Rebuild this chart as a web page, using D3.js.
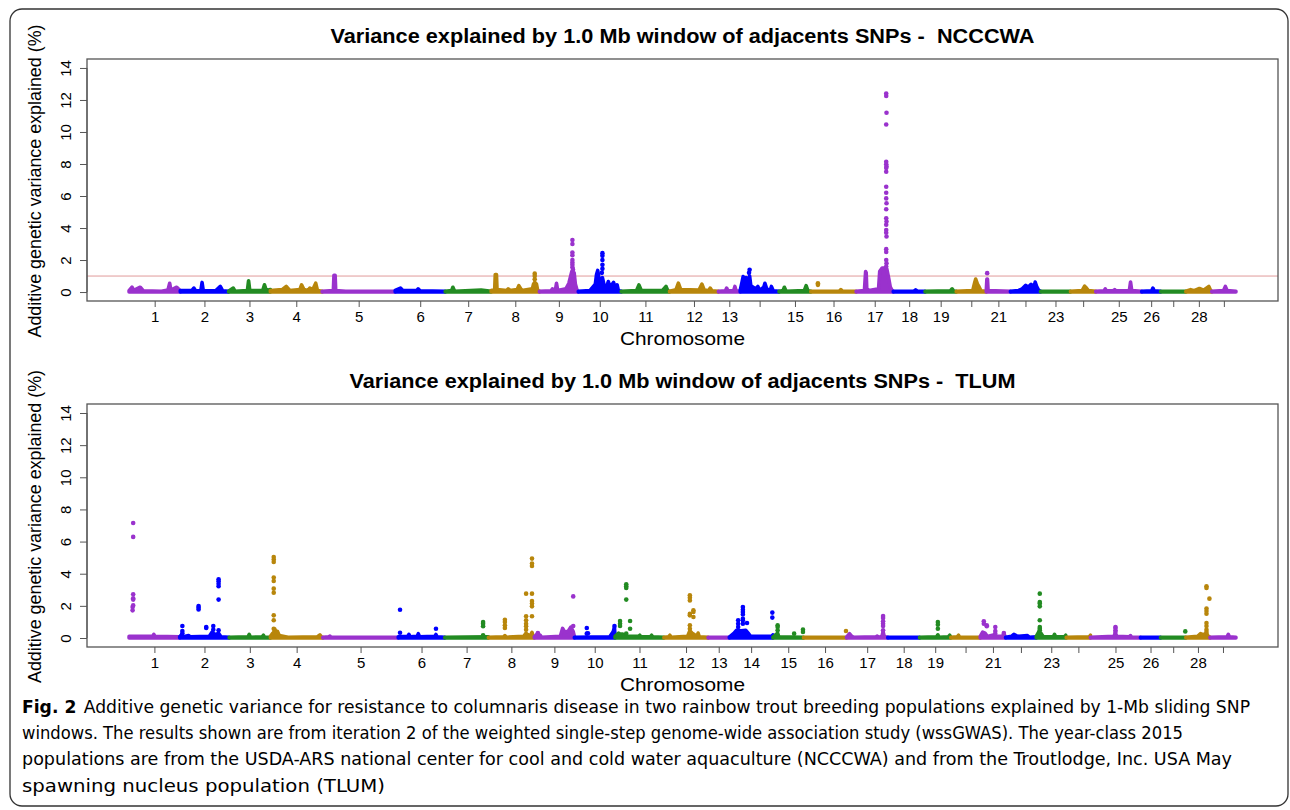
<!DOCTYPE html>
<html lang="en">
<head>
<meta charset="UTF-8">
<title>Variance explained by 1.0 Mb windows</title>
<script src="https://d3js.org/d3.v7.min.js"></script>
<style>
  body { margin: 0; background: #fff; }
  text { font-family: "Liberation Sans", Arial, sans-serif; fill: #000; }
  .caption text { font-family: "Liberation Sans Narrow", "DejaVu Sans Condensed", "Liberation Sans", sans-serif; }
</style>
</head>
<body>
<svg id="chart" width="1290" height="810"></svg>
<script>
// chromosome names and colour cycle
const chromNames = d3.range(1, 30).map(String);
const chromColors = ["#9a32cd", "#0000ff", "#228b22", "#b8860b"];
const yTicks = [0, 2, 4, 6, 8, 10, 12, 14];
const threshold = 1;

// span of the SNP windows on each chromosome (Mb)
const ncccwaChromLen = [87, 82, 71, 88, 124, 85, 78, 82, 66, 73, 82, 83, 37, 66, 54, 77, 63, 54, 53, 51, 41, 51, 51, 43, 78, 32, 43, 44, 41];
const tlumChromLen = [86, 84, 70, 89, 128, 79, 74, 78, 68, 69, 83, 75, 36, 74, 52, 73, 70, 54, 53, 50, 43, 52, 51, 41, 85, 34, 43, 41, 44];

// labels R managed to print under the ticks
const ncccwaTickLabels = ["1","2","3","4","5","6","7","8","9","10","11","12","13","15","16","17","18","19","21","23","25","26","28"];
const tlumTickLabels = ["1","2","3","4","5","6","7","8","9","10","11","12","13","14","15","16","17","18","19","21","23","25","26","28"];

// dense windows near the baseline: [chromosome, position Mb, % variance]
const ncccwaProfile = [
  [1,0,0.08],[1,5,0.3],[1,8,0.1],[1,19,0.3],[1,24,0.08],[1,55,0.05],[1,66,0.12],[1,69,0.55],[1,71,0.12],[1,81,0.3],[1,87,0.08],
  [2,0,0.1],[2,20,0.1],[2,23,0.25],[2,26,0.08],[2,35,0.1],[2,37,0.6],[2,39,0.1],[2,60,0.08],[2,68,0.35],[2,72,0.08],[2,82,0.05],
  [3,0,0.05],[3,8,0.25],[3,11,0.05],[3,32,0.1],[3,34,0.7],[3,36,0.1],[3,58,0.1],[3,61,0.45],[3,64,0.1],[3,71,0.15],
  [4,0,0.1],[4,20,0.15],[4,27,0.35],[4,33,0.1],[4,50,0.15],[4,53,0.45],[4,57,0.15],[4,64,0.1],[4,67,0.25],[4,72,0.15],[4,77,0.55],[4,80,0.1],[4,88,0.05],
  [5,0,0.05],[5,19,0.1],[5,20,1.05],[5,22,1.05],[5,23,0.1],[5,40,0.05],[5,124,0.05],
  [6,0,0.1],[6,9,0.25],[6,13,0.1],[6,37,0.1],[6,39,0.2],[6,42,0.08],[6,85,0.05],
  [7,0,0.05],[7,11,0.1],[7,13,0.3],[7,16,0.05],[7,61,0.12],[7,78,0.05],
  [8,0,0.1],[8,6,0.15],[8,7,1.1],[8,9,1.1],[8,10,0.15],[8,27,0.1],[8,29,0.2],[8,32,0.1],[8,44,0.15],[8,47,0.4],[8,52,0.1],[8,70,0.2],[8,72,0.5],[8,74,0.6],[8,77,0.5],[8,79,0.1],[8,82,0.05],
  [9,0,0.05],[9,20,0.08],[9,22,0.2],[9,24,0.08],[9,27,0.1],[9,29,0.55],[9,31,0.1],[9,45,0.2],[9,50,0.55],[9,55,1.28],[9,59,1.2],[9,61,0.5],[9,64,0.1],[9,66,0.05],
  [10,0,0.05],[10,20,0.1],[10,29,0.5],[10,31,1.1],[10,33,1.35],[10,35,0.9],[10,37,0.6],[10,41,0.9],[10,44,0.4],[10,48,0.3],[10,51,0.66],[10,54,0.3],[10,60,0.6],[10,63,0.2],[10,66,0.45],[10,68,0.1],[10,73,0.05],
  [11,0,0.05],[11,26,0.1],[11,30,0.45],[11,34,0.1],[11,70,0.1],[11,76,0.35],[11,79,0.08],[11,82,0.05],
  [12,0,0.05],[12,11,0.15],[12,15,0.56],[12,19,0.15],[12,50,0.12],[12,55,0.5],[12,59,0.12],[12,67,0.1],[12,69,0.25],[12,72,0.08],[12,83,0.05],
  [13,0,0.05],[13,12,0.08],[13,14,0.25],[13,16,0.08],[13,26,0.1],[13,28,0.35],[13,30,0.08],[13,37,0.05],
  [14,0,0.1],[14,3,0.6],[14,5,0.97],[14,7,0.4],[14,10,0.9],[14,12,0.7],[14,16,1.0],[14,18,0.4],[14,26,0.2],[14,30,0.35],[14,33,0.1],[14,40,0.3],[14,42,0.55],[14,45,0.2],[14,51,0.1],[14,53,0.35],[14,56,0.08],[14,66,0.05],
  [15,0,0.05],[15,7,0.1],[15,9,0.3],[15,12,0.05],[15,43,0.1],[15,46,0.4],[15,49,0.08],[15,54,0.05],
  [16,0,0.05],[16,48,0.05],[16,51,0.15],[16,54,0.05],[16,77,0.05],
  [17,0,0.05],[17,14,0.1],[17,16,1.28],[17,17,1.2],[17,18,0.2],[17,22,0.1],[17,38,0.2],[17,40,1.3],[17,44,1.5],[17,49,1.5],[17,52,1.45],[17,55,0.9],[17,58,0.3],[17,61,0.1],[17,63,0.05],
  [18,0,0.05],[18,35,0.05],[18,38,0.14],[18,41,0.05],[18,54,0.05],
  [19,0,0.05],[19,43,0.08],[19,46,0.2],[19,49,0.05],[19,53,0.05],
  [20,0,0.05],[20,28,0.1],[20,31,0.55],[20,33,0.81],[20,36,0.5],[20,39,0.3],[20,42,0.08],[20,51,0.05],
  [21,0,0.1],[21,1,0.81],[21,2,0.81],[21,3,0.1],[21,41,0.05],
  [22,0,0.05],[22,14,0.1],[22,20,0.2],[22,26,0.42],[22,30,0.3],[22,35,0.48],[22,40,0.3],[22,42,0.62],[22,45,0.3],[22,48,0.1],[22,51,0.05],
  [23,0,0.05],[23,51,0.05],
  [24,0,0.05],[24,20,0.1],[24,24,0.37],[24,27,0.25],[24,30,0.1],[24,43,0.05],
  [25,0,0.05],[25,14,0.08],[25,16,0.2],[25,18,0.08],[25,30,0.1],[25,32,0.15],[25,34,0.08],[25,57,0.1],[25,59,0.62],[25,61,0.1],[25,78,0.05],
  [26,0,0.05],[26,17,0.08],[26,19,0.25],[26,21,0.08],[26,32,0.05],
  [27,0,0.05],[27,43,0.05],
  [28,0,0.05],[28,8,0.15],[28,14,0.08],[28,23,0.22],[28,30,0.12],[28,39,0.35],[28,42,0.1],[28,44,0.05],
  [29,0,0.05],[29,20,0.1],[29,23,0.35],[29,26,0.1],[29,41,0.05]
];

// isolated windows standing above the baseline
const ncccwaHits = [
  [8,74,1.15],[8,74,1.0],[8,74,0.8],
  [9,56,3.25],[9,56,3.0],[9,56,2.47],[9,56,2.3],[9,56,2.0],[9,56,1.85],[9,56,1.7],[9,56,1.55],[9,57,1.4],
  [10,41,2.43],[10,41,2.26],[10,41,2.0],[10,41,1.7],[10,41,1.45],[10,40,1.2],
  [14,16,1.39],[14,15,1.2],
  [16,12,0.55],[16,12,0.45],
  [17,51,12.4],[17,51,12.25],[17,51.5,11.2],[17,51,10.47],[17,51,8.14],[17,51,7.98],[17,51.5,7.85],[17,51,7.75],[17,51,7.52],
  [17,51,6.58],[17,51,6.2],[17,51,5.85],[17,51.5,5.55],[17,51,5.17],[17,51,4.61],[17,51.5,4.4],[17,51,4.2],[17,51,3.88],
  [17,51,3.7],[17,51.5,3.47],[17,51,2.68],[17,51,2.5],[17,51,2.0],[17,51.5,1.8],[17,51,1.6],
  [21,1.5,1.18]
];

const tlumProfile = [
  [1,0,0.1],[1,40,0.1],[1,42,0.23],[1,44,0.1],[1,86,0.08],
  [2,0,0.08],[2,3,0.2],[2,6,0.08],[2,15,0.15],[2,18,0.08],[2,50,0.1],[2,55,0.37],[2,60,0.2],[2,66,0.3],[2,70,0.08],[2,84,0.05],
  [3,0,0.05],[3,32,0.08],[3,34,0.23],[3,36,0.05],[3,56,0.08],[3,58,0.17],[3,60,0.05],[3,70,0.05],
  [4,0,0.1],[4,4,0.3],[4,8,0.45],[4,12,0.4],[4,15,0.15],[4,30,0.05],[4,80,0.08],[4,84,0.2],[4,87,0.05],[4,89,0.05],
  [5,0,0.05],[5,10,0.08],[5,12,0.12],[5,14,0.05],[5,128,0.05],
  [6,0,0.08],[6,16,0.1],[6,18,0.23],[6,20,0.08],[6,32,0.1],[6,34,0.27],[6,36,0.08],[6,62,0.1],[6,64,0.22],[6,66,0.08],[6,79,0.05],
  [7,0,0.05],[7,74,0.08],
  [8,0,0.05],[8,26,0.08],[8,28,0.15],[8,30,0.05],[8,60,0.1],[8,64,0.3],[8,68,0.15],[8,72,0.2],[8,74,0.35],[8,76,0.1],[8,78,0.05],
  [9,0,0.08],[9,6,0.3],[9,8,0.1],[9,10,0.17],[9,12,0.05],[9,44,0.1],[9,48,0.6],[9,52,0.35],[9,58,0.45],[9,62,0.68],[9,66,0.4],[9,68,0.1],
  [10,0,0.05],[10,60,0.08],[10,66,0.4],[10,68,0.68],[10,69,0.1],
  [11,0,0.1],[11,6,0.3],[11,9,0.2],[11,12,0.25],[11,16,0.2],[11,20,0.1],[11,40,0.1],[11,42,0.17],[11,44,0.08],[11,60,0.08],[11,62,0.17],[11,64,0.08],[11,83,0.05],
  [12,0,0.05],[12,8,0.08],[12,10,0.17],[12,12,0.05],[12,40,0.1],[12,44,0.45],[12,48,0.3],[12,52,0.2],[12,56,0.1],[12,58,0.31],[12,60,0.08],[12,75,0.05],
  [13,0,0.05],[13,36,0.05],
  [14,0,0.05],[14,8,0.3],[14,12,0.48],[14,20,0.45],[14,28,0.48],[14,32,0.3],[14,36,0.1],[14,72,0.1],[14,74,0.2],
  [15,0,0.05],[15,8,0.3],[15,10,0.08],[15,52,0.05],
  [16,0,0.05],[16,73,0.05],
  [17,0,0.05],[17,5,0.27],[17,9,0.1],[17,12,0.05],[17,50,0.08],[17,52,0.12],[17,54,0.05],[17,60,0.1],[17,62,0.4],[17,64,0.1],[17,70,0.05],
  [18,0,0.05],[18,54,0.05],
  [19,0,0.05],[19,29,0.08],[19,31,0.2],[19,33,0.05],[19,49,0.08],[19,51,0.17],[19,53,0.05],
  [20,0,0.05],[20,11,0.08],[20,13,0.17],[20,15,0.05],[20,50,0.05],
  [21,0,0.1],[21,4,0.37],[21,8,0.3],[21,12,0.1],[21,24,0.2],[21,26,0.1],[21,38,0.1],[21,40,0.3],[21,42,0.1],[21,43,0.05],
  [22,0,0.05],[22,10,0.1],[22,14,0.23],[22,18,0.15],[22,22,0.1],[22,37,0.15],[22,40,0.05],[22,52,0.08],
  [23,0,0.1],[23,4,0.37],[23,8,0.3],[23,12,0.08],[23,29,0.08],[23,31,0.23],[23,33,0.08],[23,48,0.08],[23,50,0.17],[23,51,0.05],
  [24,0,0.05],[24,39,0.08],[24,41,0.17],
  [25,0,0.05],[25,40,0.1],[25,42,0.3],[25,45,0.1],[25,66,0.08],[25,68,0.15],[25,70,0.05],[25,85,0.05],
  [26,0,0.05],[26,34,0.05],
  [27,0,0.05],[27,43,0.05],
  [28,0,0.05],[28,20,0.1],[28,25,0.27],[28,30,0.2],[28,35,0.3],[28,38,0.1],[28,41,0.05],
  [29,0,0.05],[29,29,0.08],[29,31,0.23],[29,33,0.08],[29,44,0.05]
];

const tlumHits = [
  [1,6,1.93],[1,6,1.72],[1,7,2.72],[1,7,2.47],[1,7,2.39],[1,7,2.03],[1,7,6.29],[1,7,7.16],
  [2,4.5,0.75],[2,4.5,0.44],[2,4.5,0.3],[2,32,1.99],[2,32,1.89],[2,32,1.78],[2,45,0.68],[2,45,0.62],[2,57,0.75],[2,57,0.52],
  [2,66,3.65],[2,66,3.53],[2,66,3.38],[2,66,3.22],[2,66,2.39],[2,66,0.48],
  [4,5.6,5.04],[4,5.6,4.88],[4,5.6,4.73],[4,5.6,3.76],[4,5.6,3.55],[4,5.6,3.07],[4,5.6,2.82],[4,5.6,1.41],[4,5.6,1.1],[4,5.6,0.58],[4,7,0.52],
  [6,3,1.76],[6,3,0.33],[6,64,0.58],
  [7,65,1.0],[7,65,0.89],[7,65,0.73],[7,65,0.17],
  [8,28,1.14],[8,28,1.0],[8,28,0.79],[8,28,0.62],[8,64,2.76],[8,64,1.35],[8,64,1.1],[8,64,0.89],[8,64,0.73],[8,64,0.52],
  [8,74,4.94],[8,74,4.63],[8,74,4.48],[8,74,2.76],[8,74,2.3],[8,74,2.14],[8,74,1.97],[8,74,1.35],
  [9,6,0.31],[9,66,2.59],[9,66,0.75],
  [10,21,0.62],[10,21,0.27],[10,23,0.3],[10,68,0.75],
  [11,8.5,1.06],[11,8.5,0.89],[11,8.5,0.75],[11,19,3.34],[11,19,3.22],[11,19,3.11],[11,19,2.39],[11,19,0.27],[11,25.5,1.06],[11,25.5,0.58],
  [12,44,2.66],[12,44,2.51],[12,44,2.34],[12,44,1.51],[12,44,1.41],[12,44,0.79],[12,44,0.58],[12,50,1.72],[12,50,1.62],[12,50,1.31],
  [14,15,1.1],[14,15,0.89],[14,15,0.68],[14,23,1.93],[14,23,1.76],[14,23,1.62],[14,23,1.47],[14,23,1.2],[14,23,1.1],[14,23,0.89],[14,30,0.93],[14,73,1.58],[14,73,1.27],
  [15,8,0.79],[15,8,0.68],[15,8,0.48],[15,36,0.27],[15,51,0.52],[15,51,0.37],
  [16,72,0.44],
  [17,62,1.37],[17,62,1.25],[17,62,1.04],[17,62,0.89],[17,62,0.75],[17,62,0.48],
  [19,31,1.0],[19,31,0.83],[19,31,0.58],
  [21,6,1.04],[21,6,0.89],[21,11,0.79],[21,11,0.73],[21,25.5,0.68],[21,25.5,0.44],[21,25.5,0.27],[21,40,0.31],
  [23,6,2.76],[23,6,2.24],[23,6,2.14],[23,6,1.97],[23,6,1.1],[23,6,0.68],[23,6,0.58],[23,6,0.48],
  [25,42.5,0.68],[25,42.5,0.62],[25,42.5,0.48],[25,42.5,0.37],
  [27,42,0.41],
  [28,35,3.22],[28,35,3.11],[28,35,1.83],[28,35,1.68],[28,35,1.51],[28,35,0.93],[28,35,0.75],[28,35,0.52],[28,35,0.37],[28,40,2.45]
];

const captionLines = [
  "Additive genetic variance for resistance to columnaris disease in two rainbow trout breeding populations explained by 1-Mb sliding SNP",
  "windows. The results shown are from iteration 2 of the weighted single-step genome-wide association study (wssGWAS). The year-class 2015",
  "populations are from the USDA-ARS national center for cool and cold water aquaculture (NCCCWA) and from the Troutlodge, Inc. USA May",
  "spawning nucleus population (TLUM)"
];

const svg = d3.select("#chart");
const frameLeft = 87, frameRight = 1278;

// outer rounded border of the figure
svg.append("rect")
  .attr("x", 10).attr("y", 9).attr("width", 1278).attr("height", 797)
  .attr("rx", 12).attr("ry", 12)
  .attr("fill", "none").attr("stroke", "#333").attr("stroke-width", 1.3);

function drawPanel(opts) {
  const { top, bottom, title, titleWidth, lens, tickLabels, profile, hits, showThreshold } = opts;
  const g = svg.append("g");

  const starts = [0, ...d3.cumsum(lens)].slice(0, lens.length);
  const total = d3.sum(lens);
  const x = d3.scaleLinear().domain([-0.038 * total, 1.038 * total]).range([frameLeft, frameRight]);
  const y = d3.scaleLinear().domain([-0.56, 14.56]).range([bottom, top]);
  const cum = (c, p) => starts[c - 1] + p;
  const color = c => chromColors[(c - 1) % 4];

  // threshold line
  if (showThreshold) {
    g.append("line")
      .attr("x1", frameLeft).attr("x2", frameRight)
      .attr("y1", y(threshold)).attr("y2", y(threshold))
      .attr("stroke", "#e09a9a").attr("stroke-width", 1);
  }

  // baseline bands per chromosome
  const area = d3.area()
    .x(d => x(cum(d[0], d[1])))
    .y0(y(0))
    .y1(d => y(d[2]));
  const byChrom = d3.groups(profile, d => d[0]);
  g.selectAll("path.band")
    .data(byChrom)
    .join("path")
    .attr("class", "band")
    .attr("d", ([c, pts]) => area(pts.slice().sort((a, b) => a[1] - b[1])))
    .attr("fill", ([c]) => color(c))
    .attr("stroke", ([c]) => color(c))
    .attr("stroke-width", 3.6)
    .attr("stroke-linejoin", "round")
    .attr("stroke-linecap", "round");

  g.selectAll("circle.hit")
    .data(hits)
    .join("circle")
    .attr("class", "hit")
    .attr("cx", d => x(cum(d[0], d[1])))
    .attr("cy", d => y(d[2]))
    .attr("r", 2.3)
    .attr("fill", d => color(d[0]));

  // frame
  g.append("rect")
    .attr("x", frameLeft).attr("y", top)
    .attr("width", frameRight - frameLeft).attr("height", bottom - top)
    .attr("fill", "none").attr("stroke", "#555").attr("stroke-width", 1.3);

  // y axis
  const yAxis = g.append("g").attr("transform", `translate(${frameLeft},0)`)
    .call(d3.axisLeft(y).tickValues(yTicks).tickSize(7).tickFormat(d3.format("d")));
  yAxis.select(".domain").attr("stroke", "#555").attr("d", `M0,${y(0)}V${y(14)}`);
  yAxis.selectAll(".tick line").attr("stroke", "#555");
  yAxis.selectAll(".tick text")
    .attr("x", null).attr("dy", null)
    .attr("transform", "translate(-22,0) rotate(-90)")
    .attr("text-anchor", "middle").attr("dominant-baseline", "central")
    .style("font-size", "15px").style("font-family", "Liberation Sans, Arial, sans-serif");

  // x axis: ticks at chromosome centres
  const centers = lens.map((l, i) => starts[i] + l / 2);
  const xAxis = g.append("g").attr("transform", `translate(0,${bottom})`)
    .call(d3.axisBottom(x).tickValues(centers).tickSize(6)
      .tickFormat((d, i) => tickLabels.includes(chromNames[i]) ? chromNames[i] : ""));
  xAxis.select(".domain").remove();
  xAxis.selectAll(".tick line").attr("stroke", "#555");
  xAxis.selectAll(".tick text")
    .attr("y", 21).attr("dy", null)
    .style("font-size", "15px").style("font-family", "Liberation Sans, Arial, sans-serif");

  g.append("text")
    .attr("x", (frameLeft + frameRight) / 2).attr("y", bottom + 44)
    .attr("text-anchor", "middle")
    .attr("textLength", 125).attr("lengthAdjust", "spacingAndGlyphs")
    .style("font-size", "18.5px")
    .text("Chromosome");

  g.append("text")
    .attr("x", (frameLeft + frameRight) / 2).attr("y", top - 16)
    .attr("text-anchor", "middle")
    .attr("textLength", titleWidth).attr("lengthAdjust", "spacingAndGlyphs")
    .style("font-size", "19.5px").style("font-weight", "bold")
    .text(title);

  g.append("text")
    .attr("transform", `translate(41,${(top + bottom) / 2 + 1}) rotate(-90)`)
    .attr("text-anchor", "middle")
    .attr("textLength", 313).attr("lengthAdjust", "spacingAndGlyphs")
    .style("font-size", "18.5px")
    .text("Additive genetic variance explained (%)");
}

drawPanel({
  top: 59, bottom: 301,
  title: "Variance explained by 1.0 Mb window of adjacents SNPs -\u00a0 NCCCWA", titleWidth: 704,
  lens: ncccwaChromLen, tickLabels: ncccwaTickLabels,
  profile: ncccwaProfile, hits: ncccwaHits, showThreshold: true
});

drawPanel({
  top: 404, bottom: 647,
  title: "Variance explained by 1.0 Mb window of adjacents SNPs -\u00a0 TLUM", titleWidth: 666,
  lens: tlumChromLen, tickLabels: tlumTickLabels,
  profile: tlumProfile, hits: tlumHits, showThreshold: false
});

// figure caption
const cap = svg.append("g").attr("class", "caption");
const capY = [713, 739, 765, 792];
const capWidth = [1228, 1161, 1210, 363];
captionLines.forEach((line, i) => {
  const t = cap.append("text").attr("x", 22).attr("y", capY[i]).style("font-size", "18px")
    .attr("textLength", capWidth[i]).attr("lengthAdjust", "spacingAndGlyphs");
  if (i === 0) {
    t.append("tspan").style("font-weight", "bold").text("Fig. 2");
    t.append("tspan").attr("dx", 7).text(line);
  } else {
    t.text(line);
  }
});
</script>
</body>
</html>
